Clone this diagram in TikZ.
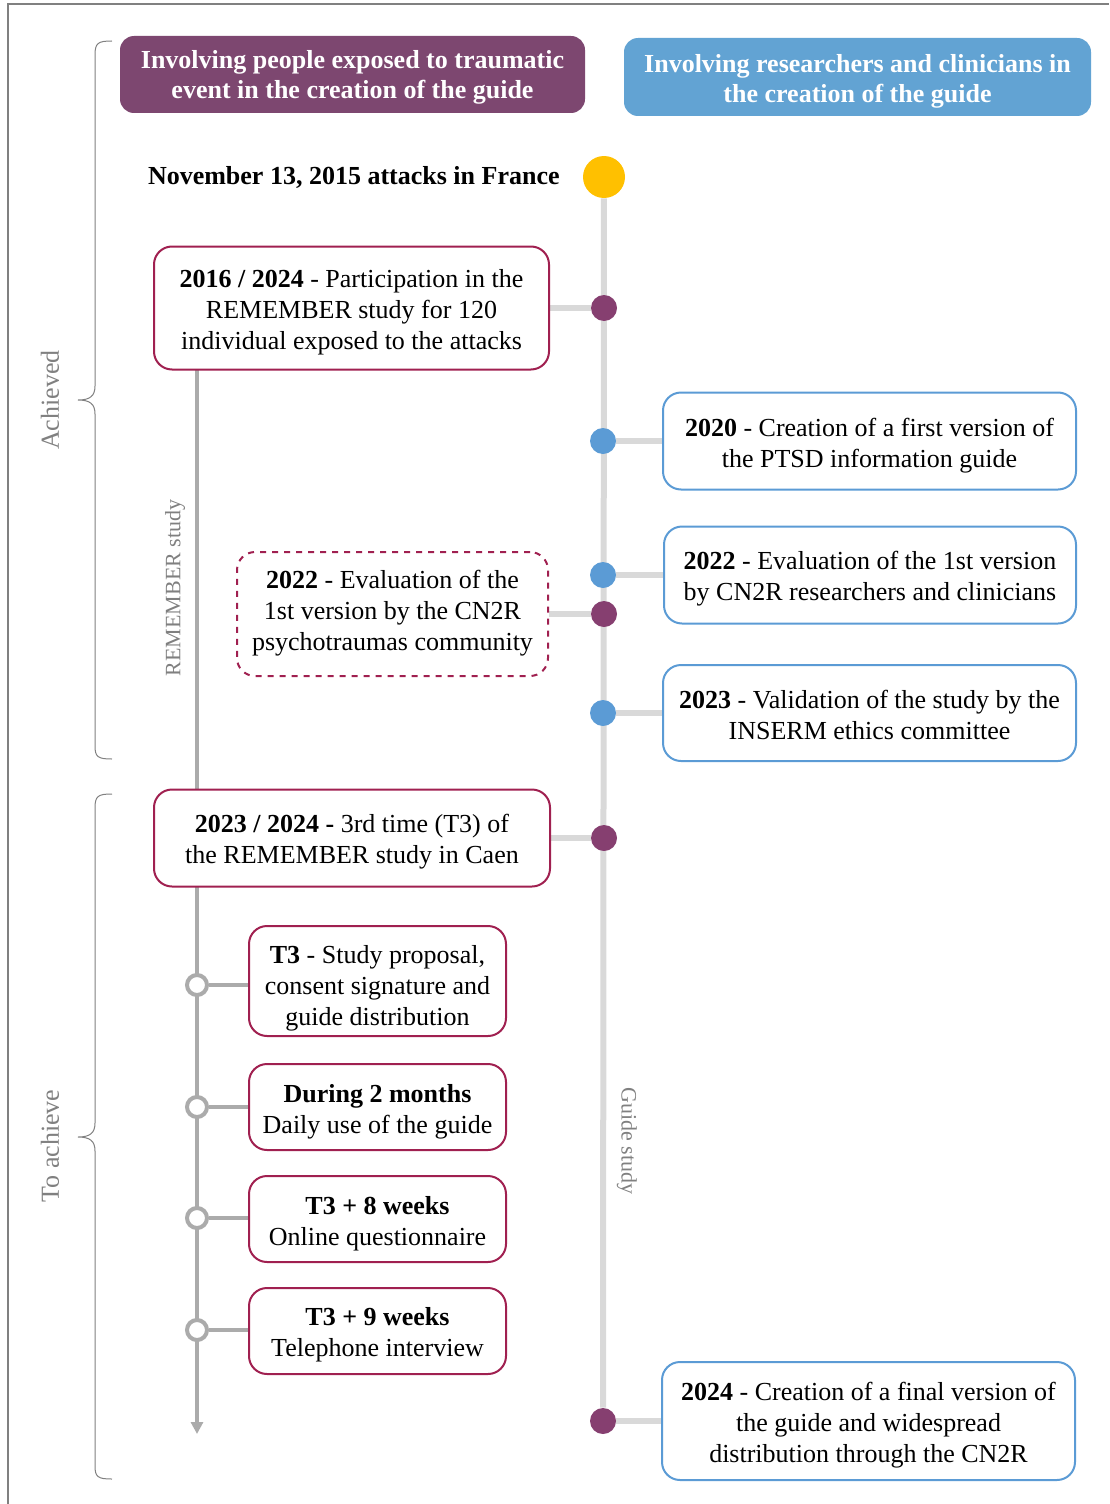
\documentclass[tikz,border=0pt]{standalone}
\usepackage{fontspec}
\setmainfont{Liberation Serif}
\usetikzlibrary{backgrounds,arrows.meta}
\definecolor{plum}{RGB}{125,71,112}
\definecolor{plumdot}{RGB}{134,63,112}
\definecolor{wine}{RGB}{160,32,80}
\definecolor{sky}{RGB}{98,163,211}
\definecolor{skyline}{RGB}{91,155,213}
\definecolor{sun}{RGB}{255,192,0}
\definecolor{rail}{RGB}{217,217,217}
\definecolor{track}{RGB}{171,171,171}
\definecolor{note}{RGB}{128,128,128}
% taller first line pushes the text block down inside its box
\newcommand\lift[1]{\rule{0pt}{#1}}
\tikzset{
  txt/.style={font=\fontsize{13}{15.5}\selectfont, align=center, inner sep=0pt, execute at end node=\strut},
  sz/.style 2 args={minimum width=#1*0.5pt, minimum height=#2*0.5pt},
  head/.style={txt, rounded corners=7pt, text=white, font=\fontsize{13}{15}\selectfont\bfseries},
  wbox/.style={txt, draw=wine, line width=1pt, rounded corners=9pt, fill=white},
  bbox/.style={txt, draw=skyline, line width=1pt, rounded corners=9pt, fill=white},
  dot/.style={circle, fill=#1, minimum size=13pt, inner sep=0pt},
  ring/.style={circle, draw=track, line width=2pt, fill=white, minimum size=10pt, inner sep=0pt},
  side/.style={font=\fontsize{13}{15}\selectfont, text=note},
  bracket/.style={draw=note, line width=0.5pt},
}
\begin{document}
\begin{tikzpicture}[x=0.5pt, y=-0.5pt]
        \useasboundingbox (0,0) rectangle (1109,1504);
        % frame
        \draw[note, line width=1pt] (8,1504) -- (8,4) -- (1109,4);

        % headers
        \node[head, fill=plum, sz={465}{77}] (hplum) at (352.5,74.5) {\lift{13.5pt}Involving people exposed to traumatic\\event in the creation of the guide};
        \node[head, fill=sky, sz={467}{78}] (hsky) at (857.5,77) {\lift{15pt}Involving researchers and clinicians in\\the creation of the guide};

        % guide timeline
        \node[circle, fill=sun, minimum size=21pt, inner sep=0pt] (start) at (604,177) {};
        \node[anchor=east, inner sep=0pt, font=\fontsize{13}{15}\selectfont\bfseries] (title) at (560,177) {November 13, 2015 attacks in France};

        \node[wbox, sz={395}{123}] (b1) at (351.5,308) {\lift{14.85pt}\textbf{2016 / 2024} - Participation in the\\REMEMBER study for 120\\individual exposed to the attacks};
        \node[dot=plumdot] (d1) at (604,308) {};

        \node[bbox, sz={413}{97}] (b2) at (869.5,441) {\lift{15.85pt}\textbf{2020} - Creation of a first version of\\the PTSD information guide};
        \node[dot=skyline] (d2) at (603,441) {};

        \node[bbox, sz={412}{97}] (b3) at (870,575) {\lift{15pt}\textbf{2022} - Evaluation of the 1st version\\by CN2R researchers and clinicians};
        \node[dot=skyline] (d3) at (603,575) {};

        \node[wbox, dashed, sz={311}{124}] (b4) at (392.5,614) {\lift{10.6pt}\textbf{2022} - Evaluation of the\\1st version by the CN2R\\psychotraumas community};
        \node[dot=plumdot] (d4) at (604,614) {};

        \node[bbox, sz={413}{96}] (b5) at (869.5,713) {\lift{16pt}\textbf{2023} - Validation of the study by the\\INSERM ethics committee};
        \node[dot=skyline] (d5) at (603,713) {};

        \node[wbox, sz={396}{97}] (b6) at (352,838) {\lift{14.3pt}\textbf{2023 / 2024 -} 3rd time (T3) of\\the REMEMBER study in Caen};
        \node[dot=plumdot] (d6) at (604,838) {};

        \node[bbox, sz={413}{118}] (b7) at (868.5,1421) {\lift{14.85pt}\textbf{2024} - Creation of a final version of\\the guide and widespread\\distribution through the CN2R};
        \node[dot=plumdot] (d7) at (603,1421) {};

        % REMEMBER study steps
        \coordinate (rtop) at (197,370);
        \coordinate (rend) at (197,1434);
        \foreach \n/\y/\ry/\h/\l/\t in {1/981/985/110/18.6pt/{\textbf{T3} - Study proposal,\\consent signature and\\guide distribution},
                                        2/1107/1107/86/15.6pt/{\textbf{During 2 months}\\Daily use of the guide},
                                        3/1219/1218/86/15.5pt/{\textbf{T3 + 8 weeks}\\Online questionnaire},
                                        4/1331/1330/86/14.5pt/{\textbf{T3 + 9 weeks}\\Telephone interview}} {
                \node[wbox, sz={257}{\h}] (s\n) at (377.5,\y) {\lift{\l}\t};
                \node[ring] (r\n) at (197,\ry) {};
            }

        % side labels
        \node[side, rotate=90, font=\fontsize{11}{13}\selectfont] (rlabel) at (175,588) {REMEMBER study};
        \node[side, rotate=-90, font=\fontsize{11}{13}\selectfont] (glabel) at (627,1141) {Guide study};
        \node[side, rotate=90] (achieved) at (50,400) {Achieved};
        \node[side, rotate=90] (toachieve) at (50,1146) {To achieve};
        \draw[bracket] (112,41) .. controls (98,41) and (95,43) .. (95,55) -- (95,386)
                .. controls (95,396) and (90,400) .. (78,400) .. controls (90,400) and (95,404) .. (95,414)
                -- (95,746) .. controls (95,757) and (98,759) .. (112,759);
        \draw[bracket] (112,794) .. controls (98,794) and (95,796) .. (95,808) -- (95,1123)
                .. controls (95,1133) and (90,1137) .. (78,1137) .. controls (90,1137) and (95,1141) .. (95,1151)
                -- (95,1466) .. controls (95,1477) and (98,1479) .. (112,1479);

        \begin{pgfonlayer}{background}
                \draw[rail, line width=3pt] (start) -- (d7);
                \foreach \i/\side in {1/b1.east, 2/b2.west, 3/b3.west, 4/b4.east, 5/b5.west, 6/b6.east, 7/b7.west} {
                        \draw[rail, line width=3pt] (d\i) -- (d\i -| \side);
                    }
                \draw[track, line width=2pt, -{Triangle[width=6pt, length=6pt]}] (rtop) -- (rend);
                \foreach \n in {1,...,4} {
                        \draw[track, line width=2pt] (r\n) -- (r\n -| s\n.west);
                    }
        \end{pgfonlayer}
    \end{tikzpicture}
\end{document}
